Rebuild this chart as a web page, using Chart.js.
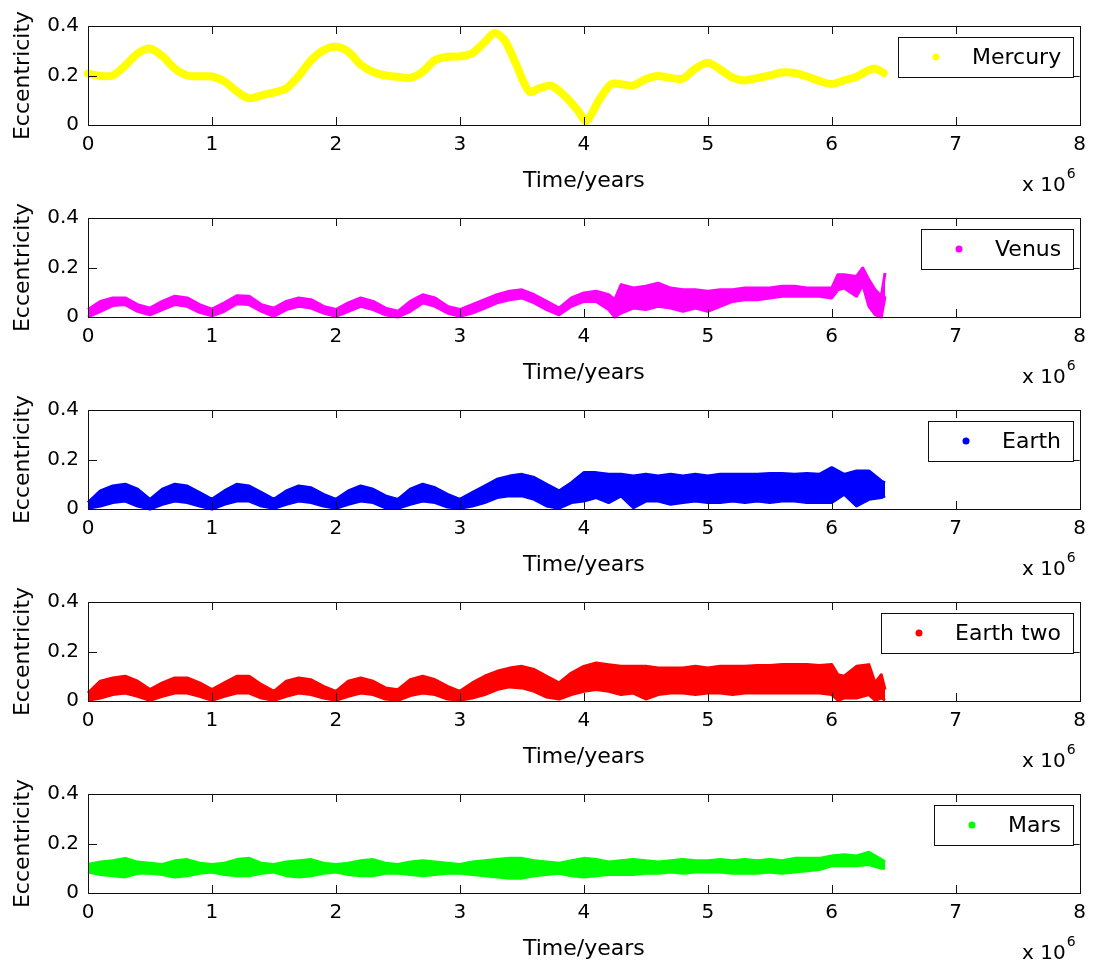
<!DOCTYPE html>
<html>
<head>
<meta charset="utf-8">
<script src="https://cdn.jsdelivr.net/npm/chart.js@4.4.0/dist/chart.umd.min.js"></script>
<style>
  body { margin: 0; background: #fff; overflow: hidden; }
  #wrap { position: relative; width: 1094px; height: 963px; }
  canvas { position: absolute; left: 0; }
</style>
</head>
<body>
<div id="wrap"></div>
<script>
// time in units of 10^6 years, eccentricity
const xTicks = [0, 1, 2, 3, 4, 5, 6, 7, 8];
const yTicks = [0, 0.2, 0.4];

const mercuryT = [0,0.1,0.2,0.3,0.4,0.5,0.6,0.7,0.8,0.9,1.0,1.1,1.2,1.3,1.4,1.5,1.6,1.7,1.8,1.9,2.0,2.1,2.2,2.3,2.4,2.5,2.6,2.7,2.8,2.9,3.0,3.1,3.2,3.28,3.36,3.45,3.56,3.65,3.74,3.85,3.95,4.02,4.12,4.22,4.3,4.4,4.5,4.6,4.7,4.8,4.9,5.0,5.1,5.2,5.3,5.4,5.5,5.6,5.7,5.8,5.9,6.0,6.1,6.2,6.3,6.35,6.42];
const mercuryE = [0.208,0.198,0.2,0.24,0.289,0.309,0.278,0.228,0.2,0.197,0.196,0.176,0.136,0.108,0.12,0.132,0.148,0.198,0.262,0.302,0.316,0.296,0.244,0.214,0.2,0.195,0.19,0.215,0.262,0.276,0.277,0.29,0.335,0.372,0.343,0.25,0.135,0.15,0.158,0.115,0.06,0.016,0.098,0.165,0.165,0.16,0.186,0.198,0.19,0.188,0.228,0.252,0.225,0.192,0.18,0.19,0.2,0.212,0.21,0.196,0.178,0.166,0.18,0.195,0.222,0.228,0.21];

const venusT = [0,0.1,0.2,0.3,0.4,0.5,0.6,0.7,0.8,0.9,1,1.1,1.2,1.3,1.4,1.5,1.6,1.7,1.8,1.9,2,2.1,2.2,2.3,2.4,2.5,2.6,2.7,2.8,2.9,3,3.1,3.2,3.3,3.4,3.5,3.6,3.7,3.8,3.9,4,4.1,4.2,4.25,4.3,4.4,4.5,4.6,4.7,4.8,4.9,5,5.1,5.2,5.3,5.4,5.5,5.6,5.7,5.8,5.9,6,6.05,6.1,6.2,6.25,6.3,6.35,6.4,6.43];
const venusHigh = [0.03,0.063,0.077,0.077,0.05,0.036,0.063,0.084,0.077,0.05,0.032,0.057,0.086,0.084,0.05,0.036,0.063,0.077,0.07,0.043,0.03,0.057,0.077,0.063,0.036,0.023,0.063,0.09,0.077,0.043,0.03,0.05,0.07,0.09,0.104,0.11,0.09,0.063,0.036,0.077,0.097,0.104,0.09,0.07,0.13,0.117,0.124,0.137,0.117,0.11,0.11,0.104,0.11,0.11,0.117,0.117,0.117,0.124,0.124,0.117,0.117,0.117,0.171,0.171,0.164,0.198,0.15,0.11,0.084,0.178];
const venusLow = [0,0.023,0.046,0.05,0.023,0.009,0.03,0.05,0.043,0.019,0.005,0.023,0.054,0.05,0.023,0.003,0.03,0.043,0.036,0.016,0.003,0.023,0.043,0.03,0.009,0,0.023,0.057,0.043,0.016,0.003,0.016,0.036,0.057,0.07,0.077,0.057,0.03,0.009,0.043,0.063,0.063,0.03,0,0.016,0.036,0.03,0.043,0.036,0.023,0.036,0.023,0.043,0.063,0.07,0.07,0.077,0.084,0.084,0.084,0.084,0.077,0.11,0.117,0.084,0.131,0.043,0.01,0,0.084];

const earthT = [0,0.1,0.2,0.3,0.4,0.5,0.6,0.7,0.8,0.9,1,1.1,1.2,1.3,1.4,1.5,1.6,1.7,1.8,1.9,2,2.1,2.2,2.3,2.4,2.5,2.6,2.7,2.8,2.9,3,3.1,3.2,3.3,3.4,3.5,3.6,3.7,3.8,3.9,4,4.1,4.2,4.3,4.4,4.5,4.6,4.7,4.8,4.9,5,5.1,5.2,5.3,5.4,5.5,5.6,5.7,5.8,5.9,6,6.1,6.2,6.3,6.4,6.43];
const earthHigh = [0.026,0.073,0.093,0.1,0.08,0.039,0.08,0.1,0.093,0.066,0.039,0.073,0.1,0.093,0.066,0.039,0.073,0.093,0.086,0.059,0.039,0.073,0.093,0.08,0.053,0.039,0.08,0.1,0.086,0.059,0.039,0.066,0.093,0.12,0.133,0.14,0.127,0.1,0.073,0.106,0.147,0.147,0.14,0.14,0.133,0.14,0.133,0.14,0.133,0.14,0.133,0.14,0.14,0.14,0.14,0.143,0.143,0.14,0.143,0.14,0.167,0.14,0.154,0.154,0.113,0.106];
const earthLow = [0.003,0.012,0.026,0.032,0.012,0,0.019,0.032,0.026,0.012,0,0.019,0.032,0.032,0.012,0.003,0.019,0.032,0.026,0.012,0.003,0.019,0.032,0.026,0.005,0.003,0.019,0.032,0.026,0.008,0.003,0.012,0.026,0.046,0.053,0.053,0.039,0.012,0.003,0.026,0.032,0.046,0.026,0.053,0.005,0.032,0.032,0.019,0.026,0.032,0.026,0.026,0.032,0.026,0.032,0.026,0.032,0.032,0.026,0.026,0.026,0.06,0.012,0.039,0.046,0.053];

const earthTwoT = [0,0.1,0.2,0.3,0.4,0.5,0.6,0.7,0.8,0.9,1,1.1,1.2,1.3,1.4,1.5,1.6,1.7,1.8,1.9,2,2.1,2.2,2.3,2.4,2.5,2.6,2.7,2.8,2.9,3,3.1,3.2,3.3,3.4,3.5,3.6,3.7,3.8,3.9,4,4.1,4.2,4.3,4.4,4.5,4.6,4.7,4.8,4.9,5,5.1,5.2,5.3,5.4,5.5,5.6,5.7,5.8,5.9,6,6.05,6.1,6.2,6.3,6.35,6.4,6.43];
const earthTwoHigh = [0.032,0.08,0.093,0.1,0.08,0.046,0.073,0.093,0.093,0.073,0.046,0.073,0.1,0.1,0.066,0.039,0.08,0.093,0.086,0.059,0.039,0.08,0.093,0.08,0.053,0.046,0.086,0.1,0.086,0.059,0.039,0.073,0.1,0.12,0.133,0.14,0.127,0.1,0.073,0.113,0.14,0.154,0.147,0.14,0.14,0.14,0.133,0.133,0.133,0.14,0.133,0.14,0.14,0.14,0.143,0.143,0.147,0.147,0.147,0.143,0.147,0.106,0.1,0.14,0.147,0.073,0.106,0.046];
const earthTwoLow = [0.003,0.012,0.026,0.032,0.019,0.003,0.019,0.032,0.032,0.019,0.003,0.019,0.032,0.032,0.012,0.003,0.019,0.032,0.026,0.012,0.003,0.019,0.032,0.026,0.008,0.003,0.022,0.032,0.026,0.008,0.003,0.012,0.026,0.046,0.057,0.053,0.039,0.016,0.008,0.026,0.039,0.046,0.039,0.026,0.032,0.008,0.026,0.032,0.032,0.026,0.032,0.032,0.026,0.032,0.032,0.032,0.032,0.032,0.032,0.032,0.026,0.003,0.012,0.012,0.026,0.003,0.012,0.003];

const marsT = earthT;
const marsHigh = [0.115,0.125,0.13,0.14,0.125,0.12,0.115,0.13,0.135,0.12,0.115,0.12,0.135,0.14,0.12,0.115,0.125,0.13,0.135,0.12,0.115,0.12,0.13,0.135,0.12,0.115,0.125,0.13,0.125,0.12,0.115,0.125,0.13,0.135,0.14,0.14,0.13,0.125,0.12,0.13,0.14,0.135,0.125,0.13,0.135,0.13,0.125,0.13,0.135,0.13,0.13,0.135,0.13,0.135,0.13,0.135,0.13,0.14,0.14,0.14,0.15,0.155,0.15,0.165,0.135,0.125];
const marsLow = [0.085,0.075,0.07,0.065,0.08,0.08,0.075,0.065,0.07,0.08,0.085,0.075,0.07,0.07,0.08,0.085,0.07,0.065,0.07,0.08,0.085,0.075,0.07,0.07,0.08,0.08,0.075,0.07,0.075,0.08,0.08,0.075,0.07,0.065,0.06,0.06,0.07,0.075,0.08,0.07,0.065,0.07,0.075,0.075,0.075,0.08,0.08,0.085,0.08,0.085,0.085,0.085,0.08,0.08,0.08,0.085,0.08,0.085,0.09,0.095,0.11,0.11,0.11,0.115,0.1,0.1];

const FONT = "'DejaVu Sans', sans-serif";
Chart.defaults.font.family = FONT;
Chart.defaults.font.size = 20;
Chart.defaults.color = '#000';
Chart.defaults.animation = false;

function pts(t, v) {
  return t.map((x, i) => ({x: x, y: v[i]}));
}

// box, inward ticks, legend and the x 10^6 multiplier, MATLAB style
const matlabAxes = {
  id: 'matlabAxes',
  afterDraw(chart, args, opts) {
    const ctx = chart.ctx, a = chart.chartArea;
    const x = chart.scales.x, y = chart.scales.y;
    ctx.save();
    ctx.strokeStyle = '#111';
    ctx.lineWidth = 1;
    ctx.strokeRect(Math.round(a.left) + 0.5, Math.round(a.top) + 0.5, Math.round(a.width), Math.round(a.height));
    ctx.beginPath();
    x.ticks.forEach(t => {
      const px = Math.round(x.getPixelForValue(t.value)) + 0.5;
      ctx.moveTo(px, a.top); ctx.lineTo(px, a.top + 8);
      ctx.moveTo(px, a.bottom); ctx.lineTo(px, a.bottom - 8);
    });
    y.ticks.forEach(t => {
      const py = Math.round(y.getPixelForValue(t.value)) + 0.5;
      ctx.moveTo(a.left, py); ctx.lineTo(a.left + 9, py);
      ctx.moveTo(a.right, py); ctx.lineTo(a.right - 9, py);
    });
    ctx.stroke();

    // legend
    ctx.font = '22px ' + FONT;
    const tw = ctx.measureText(opts.label).width;
    const bw = Math.round(tw + 86), bh = 40;
    const bx = Math.round(a.right - 7 - bw), by = Math.round(a.top + 11);
    ctx.fillStyle = '#fff';
    ctx.fillRect(bx, by, bw, bh);
    ctx.strokeRect(bx + 0.5, by + 0.5, bw, bh);
    ctx.fillStyle = opts.color;
    ctx.beginPath();
    ctx.arc(bx + 38, by + bh / 2, 3.5, 0, Math.PI * 2);
    ctx.fill();
    ctx.fillStyle = '#000';
    ctx.textAlign = 'left';
    ctx.textBaseline = 'middle';
    ctx.fillText(opts.label, bx + 74, by + bh / 2 + 1);

    // x 10^6
    ctx.font = '20px ' + FONT;
    ctx.textAlign = 'right';
    ctx.fillText('x 10', a.right - 14, a.bottom + 61);
    ctx.font = '14px ' + FONT;
    ctx.textAlign = 'left';
    ctx.fillText('6', a.right - 13, a.bottom + 49);
    ctx.restore();
  }
};

const panels = [
  {label: 'Mercury', color: '#ffff00', t: mercuryT, line: mercuryE},
  {label: 'Venus', color: '#ff00ff', t: venusT, low: venusLow, high: venusHigh},
  {label: 'Earth', color: '#0000ff', t: earthT, low: earthLow, high: earthHigh},
  {label: 'Earth two', color: '#ff0000', t: earthTwoT, low: earthTwoLow, high: earthTwoHigh},
  {label: 'Mars', color: '#00ff00', t: marsT, low: marsLow, high: marsHigh}
];

const wrap = document.getElementById('wrap');
panels.forEach((p, i) => {
  const cv = document.createElement('canvas');
  cv.width = 1094;
  cv.height = 200;
  cv.style.top = (i * 192) + 'px';
  wrap.appendChild(cv);

  let datasets;
  if (p.line) {
    datasets = [{
      data: pts(p.t, p.line), borderColor: p.color, borderWidth: 8,
      pointRadius: 0, tension: 0.3, fill: false, clip: false,
      borderCapStyle: 'round', borderJoinStyle: 'round'
    }];
  } else {
    datasets = [
      {data: pts(p.t, p.low), borderColor: p.color, borderWidth: 3, pointRadius: 0,
       tension: 0, fill: false, clip: false, borderJoinStyle: 'round'},
      {data: pts(p.t, p.high), borderColor: p.color, borderWidth: 3, pointRadius: 0,
       tension: 0, fill: '-1', backgroundColor: p.color, clip: false, borderJoinStyle: 'round'}
    ];
  }

  new Chart(cv, {
    type: 'line',
    data: {datasets: datasets},
    options: {
      responsive: false,
      events: [],
      layout: {padding: {top: 26, right: 10, bottom: 8, left: 0}},
      plugins: {
        legend: {display: false},
        tooltip: {enabled: false},
        matlabAxes: {label: p.label, color: p.color}
      },
      scales: {
        x: {
          type: 'linear', min: xTicks[0], max: xTicks[xTicks.length - 1],
          afterBuildTicks: s => { s.ticks = xTicks.map(v => ({value: v})); },
          ticks: {padding: 8, callback: v => String(v), font: {size: 20}},
          grid: {display: false, drawTicks: false},
          border: {display: false},
          title: {display: true, text: 'Time/years', font: {size: 22, lineHeight: 1}, padding: {top: 0, bottom: 0}},
          afterFit: s => { s.height = 67; }
        },
        y: {
          min: yTicks[0], max: yTicks[yTicks.length - 1],
          afterBuildTicks: s => { s.ticks = yTicks.map(v => ({value: v})); },
          ticks: {padding: 9, callback: v => v === 0 ? '0' : v.toFixed(1), font: {size: 20}},
          grid: {display: false, drawTicks: false},
          border: {display: false},
          title: {display: true, text: 'Eccentricity', font: {size: 22, lineHeight: 1}, padding: {top: 12, bottom: 0}},
          afterFit: s => { s.width = 88; }
        }
      }
    },
    plugins: [matlabAxes]
  });
});
</script>
</body>
</html>
